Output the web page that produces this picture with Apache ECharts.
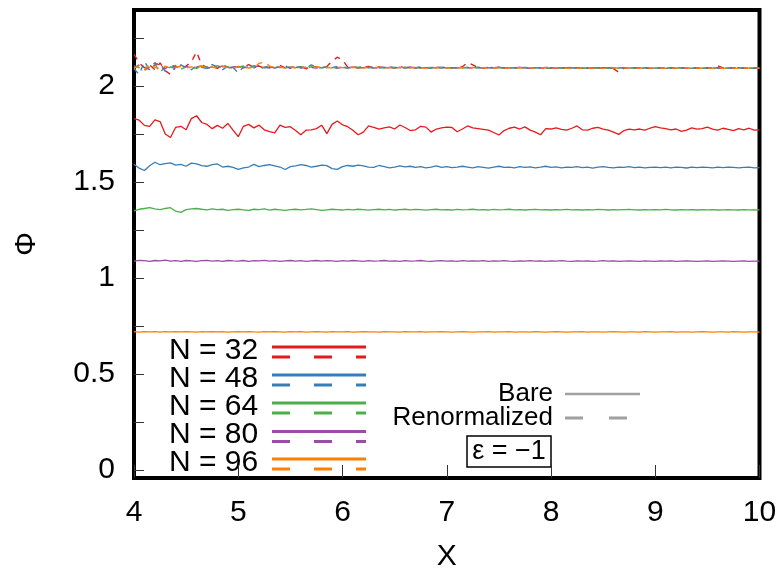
<!DOCTYPE html>
<html><head><meta charset="utf-8">
<script src="https://cdn.jsdelivr.net/npm/echarts@6/dist/echarts.min.js"></script>
<style>html,body{margin:0;padding:0;background:#fff}#c{width:784px;height:572px}</style>
</head><body><div id="c"></div>
<script>
// x grid: 4.00 .. 10.00 step 0.05 (121 points)
const xStart = 4, xStep = 0.05, nPts = 121;
const xs = Array.from({length: nPts}, (_, i) => +(xStart + i * xStep).toFixed(2));

const seriesNames = ['N = 32', 'N = 48', 'N = 64', 'N = 80', 'N = 96'];
const colors = ['#e41a1c', '#377eb8', '#4daf4a', '#984ea3', '#ff7f00'];

// Bare (solid)
const bare32 = [1.830,1.822,1.795,1.790,1.824,1.815,1.750,1.732,1.785,1.790,
1.772,1.830,1.845,1.810,1.800,1.778,1.795,1.780,1.805,1.770,
1.736,1.790,1.800,1.782,1.796,1.772,1.762,1.756,1.796,1.785,
1.788,1.768,1.746,1.770,1.772,1.778,1.796,1.752,1.800,1.818,
1.798,1.788,1.770,1.746,1.760,1.792,1.785,1.776,1.782,1.787,
1.776,1.797,1.784,1.768,1.772,1.790,1.786,1.760,1.776,1.782,
1.786,1.784,1.762,1.776,1.792,1.782,1.778,1.774,1.770,1.758,
1.745,1.768,1.780,1.786,1.776,1.787,1.770,1.760,1.746,1.778,
1.776,1.782,1.774,1.770,1.780,1.792,1.772,1.770,1.780,1.784,
1.776,1.770,1.760,1.748,1.768,1.775,1.772,1.776,1.770,1.780,
1.788,1.782,1.778,1.772,1.776,1.764,1.770,1.782,1.775,1.778,
1.786,1.776,1.770,1.780,1.774,1.768,1.778,1.772,1.780,1.770,
1.772];
const bare48 = [1.592,1.572,1.560,1.585,1.603,1.590,1.596,1.600,1.588,1.592,
1.582,1.598,1.594,1.585,1.582,1.590,1.594,1.578,1.582,1.576,
1.566,1.574,1.578,1.592,1.580,1.586,1.590,1.584,1.578,1.565,
1.580,1.584,1.590,1.586,1.578,1.582,1.588,1.585,1.570,1.566,
1.580,1.586,1.582,1.588,1.584,1.578,1.576,1.586,1.580,1.574,
1.578,1.584,1.579,1.582,1.576,1.580,1.574,1.578,1.584,1.576,
1.580,1.575,1.578,1.582,1.578,1.574,1.580,1.576,1.572,1.578,
1.582,1.576,1.578,1.574,1.580,1.576,1.579,1.574,1.577,1.582,
1.576,1.579,1.574,1.578,1.576,1.580,1.575,1.577,1.572,1.578,
1.580,1.576,1.574,1.578,1.576,1.580,1.575,1.578,1.574,1.576,
1.578,1.575,1.577,1.574,1.578,1.576,1.573,1.577,1.575,1.578,
1.576,1.574,1.577,1.575,1.578,1.576,1.574,1.576,1.577,1.574,
1.575];
const bare64 = [1.350,1.358,1.362,1.366,1.360,1.356,1.362,1.366,1.348,1.342,
1.356,1.360,1.362,1.358,1.355,1.360,1.356,1.358,1.352,1.356,
1.358,1.355,1.352,1.358,1.356,1.360,1.354,1.358,1.355,1.352,
1.356,1.358,1.355,1.357,1.360,1.356,1.352,1.355,1.358,1.356,
1.354,1.357,1.355,1.358,1.356,1.353,1.356,1.358,1.355,1.357,
1.354,1.356,1.358,1.355,1.357,1.356,1.353,1.356,1.358,1.355,
1.356,1.354,1.357,1.355,1.356,1.358,1.355,1.356,1.354,1.357,
1.355,1.356,1.358,1.355,1.356,1.354,1.356,1.357,1.355,1.356,
1.354,1.356,1.355,1.357,1.355,1.356,1.354,1.356,1.355,1.357,
1.356,1.354,1.356,1.355,1.356,1.357,1.355,1.354,1.356,1.355,
1.356,1.355,1.357,1.355,1.354,1.356,1.355,1.356,1.354,1.356,
1.355,1.356,1.354,1.355,1.356,1.355,1.354,1.356,1.355,1.354,
1.355];
const bare80 = [1.088,1.092,1.090,1.086,1.091,1.089,1.093,1.088,1.090,1.087,
1.091,1.089,1.086,1.090,1.092,1.088,1.090,1.087,1.091,1.089,
1.088,1.091,1.087,1.090,1.089,1.092,1.088,1.090,1.086,1.089,
1.091,1.088,1.090,1.087,1.089,1.091,1.088,1.090,1.089,1.087,
1.090,1.088,1.091,1.089,1.087,1.090,1.088,1.089,1.091,1.088,
1.089,1.087,1.090,1.088,1.089,1.091,1.088,1.087,1.089,1.090,
1.088,1.089,1.087,1.090,1.088,1.089,1.088,1.090,1.087,1.089,
1.088,1.090,1.088,1.087,1.089,1.088,1.090,1.088,1.089,1.087,
1.089,1.088,1.090,1.088,1.087,1.089,1.088,1.089,1.087,1.088,
1.090,1.088,1.089,1.087,1.088,1.089,1.088,1.087,1.089,1.088,
1.087,1.089,1.088,1.089,1.087,1.088,1.089,1.088,1.087,1.088,
1.089,1.087,1.088,1.089,1.088,1.087,1.088,1.089,1.087,1.088,
1.088];
const bare96 = [0.720,0.718,0.721,0.719,0.720,0.718,0.720,0.719,0.721,0.719,
0.720,0.719,0.718,0.720,0.719,0.721,0.719,0.720,0.718,0.719,
0.720,0.719,0.721,0.719,0.718,0.720,0.719,0.720,0.719,0.718,
0.720,0.719,0.720,0.718,0.719,0.720,0.719,0.718,0.720,0.719,
0.719,0.720,0.718,0.719,0.720,0.719,0.719,0.718,0.720,0.719,
0.719,0.718,0.720,0.719,0.719,0.720,0.718,0.719,0.719,0.720,
0.719,0.718,0.719,0.720,0.719,0.718,0.719,0.719,0.720,0.718,
0.719,0.719,0.720,0.718,0.719,0.719,0.718,0.720,0.719,0.718,
0.719,0.720,0.719,0.718,0.719,0.719,0.720,0.718,0.719,0.719,
0.718,0.719,0.720,0.719,0.718,0.719,0.719,0.718,0.720,0.719,
0.718,0.719,0.719,0.720,0.718,0.719,0.719,0.718,0.719,0.720,
0.719,0.718,0.719,0.719,0.718,0.720,0.719,0.718,0.719,0.719,
0.718];

// Renormalized (dashed)
const ren32 = [2.165,2.120,2.095,2.110,2.085,2.120,2.080,2.060,2.100,2.092,
2.104,2.125,2.178,2.110,2.098,2.105,2.092,2.110,2.098,2.088,
2.102,2.096,2.112,2.098,2.104,2.092,2.100,2.095,2.108,2.094,
2.100,2.096,2.104,2.090,2.098,2.100,2.094,2.102,2.130,2.150,
2.136,2.098,2.100,2.094,2.098,2.102,2.095,2.100,2.096,2.098,
2.094,2.100,2.096,2.098,2.094,2.099,2.096,2.093,2.098,2.095,
2.097,2.094,2.098,2.100,2.122,2.110,2.096,2.094,2.097,2.095,
2.098,2.093,2.096,2.094,2.097,2.095,2.093,2.096,2.094,2.097,
2.095,2.093,2.096,2.094,2.097,2.095,2.093,2.096,2.094,2.092,
2.096,2.094,2.090,2.072,2.092,2.095,2.093,2.096,2.094,2.092,
2.095,2.093,2.096,2.094,2.092,2.095,2.093,2.096,2.094,2.092,
2.095,2.093,2.105,2.094,2.092,2.095,2.093,2.094,2.092,2.094,
2.093];
const ren48 = [2.090,2.060,2.128,2.085,2.110,2.120,2.075,2.100,2.090,2.110,
2.095,2.085,2.105,2.098,2.090,2.112,2.100,2.085,2.104,2.096,
2.068,2.100,2.092,2.106,2.098,2.095,2.102,2.094,2.100,2.105,
2.092,2.098,2.101,2.094,2.110,2.098,2.095,2.100,2.096,2.102,
2.097,2.094,2.099,2.096,2.101,2.095,2.098,2.094,2.097,2.100,
2.095,2.098,2.094,2.097,2.095,2.099,2.096,2.094,2.097,2.095,
2.098,2.094,2.096,2.093,2.097,2.095,2.098,2.094,2.096,2.093,
2.097,2.095,2.093,2.096,2.094,2.097,2.095,2.093,2.096,2.094,
2.092,2.096,2.094,2.097,2.093,2.095,2.094,2.092,2.096,2.094,
2.093,2.095,2.092,2.094,2.096,2.093,2.095,2.092,2.094,2.096,
2.093,2.095,2.092,2.094,2.093,2.096,2.094,2.092,2.095,2.093,
2.094,2.092,2.095,2.093,2.094,2.092,2.095,2.093,2.094,2.092,
2.093];
const ren64 = [2.105,2.095,2.080,2.100,2.115,2.070,2.102,2.095,2.108,2.088,
2.100,2.096,2.092,2.104,2.098,2.090,2.106,2.095,2.100,2.092,
2.098,2.104,2.096,2.100,2.093,2.098,2.102,2.096,2.099,2.094,
2.100,2.096,2.098,2.093,2.100,2.097,2.095,2.099,2.096,2.094,
2.099,2.096,2.094,2.098,2.095,2.097,2.094,2.098,2.095,2.093,
2.097,2.095,2.098,2.094,2.096,2.093,2.097,2.095,2.094,2.098,
2.095,2.093,2.096,2.094,2.097,2.093,2.095,2.094,2.096,2.093,
2.095,2.093,2.096,2.094,2.092,2.095,2.093,2.096,2.094,2.092,
2.095,2.093,2.094,2.092,2.096,2.093,2.095,2.092,2.094,2.093,
2.095,2.092,2.094,2.096,2.093,2.094,2.092,2.095,2.093,2.094,
2.092,2.094,2.093,2.095,2.092,2.094,2.093,2.092,2.095,2.093,
2.092,2.094,2.093,2.092,2.094,2.093,2.095,2.092,2.094,2.093,
2.093];
const ren80 = [2.095,2.110,2.100,2.085,2.122,2.094,2.090,2.112,2.100,2.096,
2.102,2.094,2.098,2.106,2.092,2.100,2.097,2.104,2.094,2.099,
2.103,2.095,2.100,2.094,2.108,2.097,2.094,2.101,2.096,2.099,
2.095,2.100,2.094,2.098,2.096,2.093,2.100,2.096,2.098,2.094,
2.097,2.095,2.099,2.094,2.096,2.098,2.095,2.093,2.097,2.095,
2.094,2.097,2.095,2.099,2.094,2.096,2.093,2.097,2.095,2.098,
2.094,2.096,2.093,2.097,2.095,2.094,2.096,2.093,2.098,2.095,
2.094,2.096,2.093,2.095,2.097,2.094,2.092,2.096,2.094,2.093,
2.095,2.094,2.096,2.093,2.092,2.095,2.094,2.096,2.093,2.095,
2.092,2.094,2.093,2.095,2.094,2.092,2.096,2.093,2.094,2.092,
2.095,2.093,2.094,2.096,2.093,2.092,2.094,2.093,2.095,2.092,
2.094,2.093,2.092,2.095,2.093,2.094,2.092,2.093,2.095,2.093,
2.094];
const ren96 = [2.092,2.105,2.085,2.115,2.098,2.090,2.104,2.092,2.098,2.102,
2.094,2.100,2.096,2.103,2.095,2.099,2.092,2.101,2.096,2.094,
2.100,2.097,2.094,2.099,2.118,2.125,2.104,2.096,2.100,2.093,
2.098,2.095,2.101,2.096,2.094,2.099,2.095,2.097,2.093,2.098,
2.096,2.094,2.098,2.095,2.093,2.097,2.095,2.098,2.094,2.096,
2.093,2.097,2.095,2.094,2.098,2.095,2.093,2.096,2.094,2.097,
2.095,2.093,2.096,2.094,2.093,2.097,2.094,2.095,2.093,2.096,
2.094,2.093,2.095,2.094,2.096,2.093,2.095,2.092,2.094,2.096,
2.093,2.095,2.094,2.092,2.095,2.093,2.094,2.096,2.093,2.094,
2.092,2.095,2.093,2.094,2.092,2.095,2.093,2.094,2.092,2.094,
2.093,2.095,2.092,2.094,2.093,2.092,2.095,2.093,2.094,2.092,
2.094,2.093,2.095,2.092,2.094,2.093,2.092,2.094,2.093,2.092,
2.093];

const yLabelValues = [0, 0.5, 1, 1.5, 2];
const yTickValues = [0, 0.25, 0.5, 0.75, 1, 1.25, 1.5, 1.75, 2, 2.25];
const xLabelValues = [4, 5, 6, 7, 8, 9, 10];

const bareSets = [bare32, bare48, bare64, bare80, bare96];
const renSets = [ren32, ren48, ren64, ren80, ren96];
const pairs = arr => arr.map((v, i) => [xs[i], v]);

const FONT = '"Liberation Sans", Arial, Helvetica, sans-serif';
const series = [];
bareSets.forEach((d, i) => series.push({
  type: 'line', name: seriesNames[i] + ' bare', data: pairs(d), showSymbol: false,
  lineStyle: {color: colors[i], width: 1.3}, animation: false, silent: true, z: 2
}));
renSets.forEach((d, i) => series.push({
  type: 'line', name: seriesNames[i] + ' ren', data: pairs(d), showSymbol: false,
  lineStyle: {color: colors[i], width: 1.4, type: [6, 6]}, animation: false, silent: true, z: 3
}));

// Legend drawn as graphics
const graphic = [];
const rowY = [352, 380, 408, 436.5, 464];
seriesNames.forEach((n, i) => {
  graphic.push({type: 'text', left: 169, top: rowY[i] - 16.5, style: {text: n, font: '30px ' + FONT, fill: '#000'}});
  graphic.push({type: 'line', shape: {x1: 272, y1: rowY[i] - 5, x2: 366, y2: rowY[i] - 5}, style: {stroke: colors[i], lineWidth: 3}});
  graphic.push({type: 'line', shape: {x1: 272, y1: rowY[i] + 5, x2: 366, y2: rowY[i] + 5}, style: {stroke: colors[i], lineWidth: 3, lineDash: [18, 24]}});
});
graphic.push({type: 'text', x: 553, y: 394, style: {text: 'Bare', font: '26px ' + FONT, fill: '#000', textAlign: 'right', textVerticalAlign: 'middle'}});
graphic.push({type: 'line', shape: {x1: 565, y1: 394, x2: 640, y2: 394}, style: {stroke: '#a0a0a0', lineWidth: 2.5}});
graphic.push({type: 'text', x: 553, y: 418, style: {text: 'Renormalized', font: '26px ' + FONT, fill: '#000', textAlign: 'right', textVerticalAlign: 'middle'}});
graphic.push({type: 'line', shape: {x1: 565, y1: 418, x2: 640, y2: 418}, style: {stroke: '#a0a0a0', lineWidth: 3, lineDash: [18, 26]}});
graphic.push({type: 'rect', shape: {x: 467, y: 436, width: 84, height: 31}, style: {fill: '#fff', stroke: '#000', lineWidth: 1.5}});
graphic.push({type: 'text', x: 509, y: 452, style: {text: 'ε = −1', font: '27px ' + FONT, fill: '#000', textAlign: 'center', textVerticalAlign: 'middle'}});

const chart = echarts.init(document.getElementById('c'), null, {renderer: 'canvas'});
chart.setOption({
  backgroundColor: '#fff',
  animation: false,
  grid: {left: 134, right: 24.5, top: 10, bottom: 94, show: true, borderColor: '#000', borderWidth: 4,
         backgroundColor: 'transparent', containLabel: false, outerBoundsMode: 'none'},
  xAxis: {
    type: 'value', min: 4, max: 10, interval: 1,
    name: 'X', nameLocation: 'middle', nameGap: 64,
    nameTextStyle: {fontFamily: FONT, fontSize: 30, color: '#000'},
    axisLine: {show: true, onZero: false, lineStyle: {color: '#000', width: 0.5}},
    axisTick: {show: true, inside: true, length: 13, lineStyle: {color: '#333', width: 1}},
    axisLabel: {fontFamily: FONT, fontSize: 30, color: '#000', margin: 20, customValues: xLabelValues},
    splitLine: {show: false}
  },
  yAxis: {
    type: 'value', min: -0.042, max: 2.396,
    name: 'Φ', nameLocation: 'middle', nameGap: 92, nameRotate: 90,
    nameTextStyle: {fontFamily: FONT, fontSize: 30, color: '#000'},
    axisLine: {show: false, onZero: false},
    axisTick: {show: true, inside: true, length: 10, lineStyle: {color: '#333', width: 1}, customValues: yTickValues},
    axisLabel: {fontFamily: FONT, fontSize: 30, color: '#000', margin: 19, customValues: yLabelValues},
    splitLine: {show: false}
  },
  series: series,
  graphic: graphic
});
</script></body></html>
